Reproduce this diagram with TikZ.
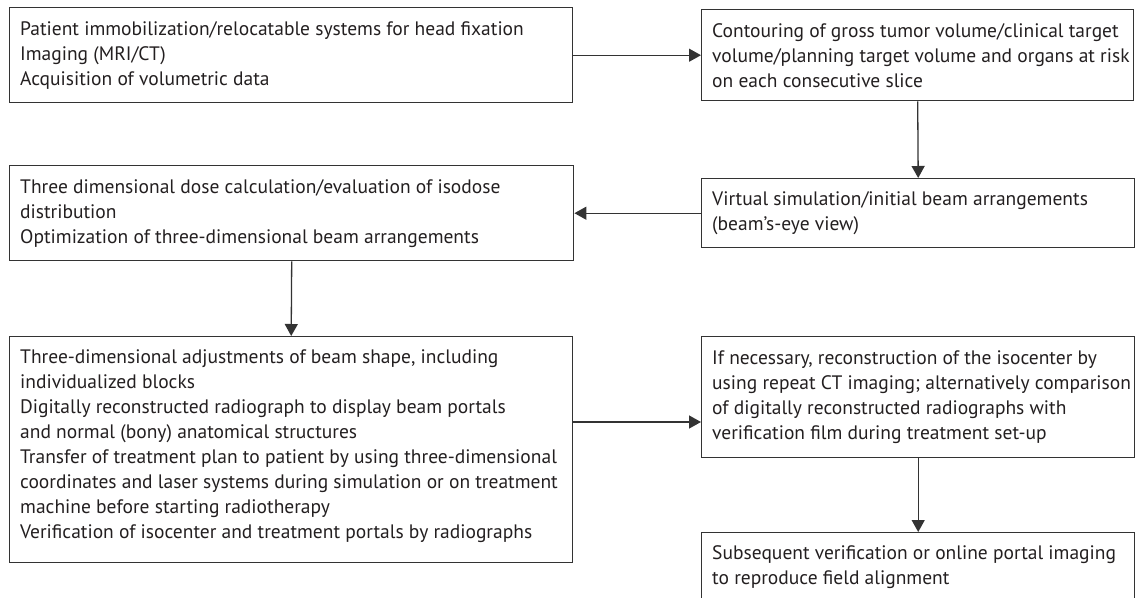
\documentclass[tikz,border=0pt]{standalone}
\usepackage{fontspec}
\setmainfont{PT Sans}
\usetikzlibrary{arrows.meta}

\definecolor{linegray}{HTML}{333333}
\definecolor{textgray}{HTML}{231F20}

\begin{document}
\begin{tikzpicture}[x=1pt, y=-1pt,
	stage/.style={draw=linegray, line width=1.4pt, anchor=north west, inner sep=0pt},
	note/.style={anchor=west, align=left, inner sep=0pt, text=textgray, font=\fontsize{19.5}{25}\selectfont},
	flow/.style={draw=linegray, line width=1.3pt, -{Triangle[length=12pt, width=13pt]}}]

\path [use as bounding box] (0,0) rectangle (1137,597);

% BOXES
\node [stage, minimum width=563pt, minimum height=95pt] (b1) at (9,7) {};
\node [stage, minimum width=432pt, minimum height=91pt] (b2) at (701,9) {};
\node [stage, minimum width=564pt, minimum height=95pt] (b3) at (9,165) {};
\node [stage, minimum width=433pt, minimum height=69pt] (b4) at (701,178) {};
\node [stage, minimum width=563pt, minimum height=226pt] (b5) at (9,336) {};
\node [stage, minimum width=433pt, minimum height=121pt] (b6) at (701,336) {};
\node [stage, minimum width=433pt, minimum height=69pt] (b7) at (701,532) {};

% TEXTS
\node [note] (t1) at ([xshift=11pt]b1.west) {Patient immobilization/relocatable systems for head fixation\\ Imaging (MRI/CT)\\ Acquisition of volumetric data};
\node [note] (t2) at ([xshift=11pt]b2.west) {Contouring of gross tumor volume/clinical target\\ volume/planning target volume and organs at risk\\ on each consecutive slice};
\node [note] (t3) at ([xshift=11pt]b3.west) {Three dimensional dose calculation/evaluation of isodose\\ distribution\\ Optimization of three-dimensional beam arrangements};
\node [note] (t4) at ([xshift=11pt]b4.west) {Virtual simulation/initial beam arrangements\\ (beam's-eye view)};
\node [note] (t5) at ([xshift=11pt, yshift=4pt]b5.west) {Three-dimensional adjustments of beam shape, including\\ individualized blocks\\ Digitally reconstructed radiograph to display beam portals\\ and normal (bony) anatomical structures\\ Transfer of treatment plan to patient by using three-dimensional\\ coordinates and laser systems during simulation or on treatment\\ machine before starting radiotherapy\\ Verification of isocenter and treatment portals by radiographs};
\node [note] (t6) at ([xshift=11pt]b6.west) {If necessary, reconstruction of the isocenter by\\ using repeat CT imaging; alternatively comparison\\ of digitally reconstructed radiographs with\\ verification film during treatment set-up};
\node [note] (t7) at ([xshift=11pt]b7.west) {Subsequent verification or online portal imaging\\ to reproduce field alignment};

% ARROWS
\coordinate (j56) at (0,422);
\draw [flow] (b1.east) -- (b2.west);
\draw [flow] (b2.south) -- (b4.north);
\draw [flow] (b4.west) -- (b3.east);
\draw [flow] (b3.south) -- (b5.north);
\draw [flow] (b5.east |- j56) -- (b6.west |- j56);
\draw [flow] (b6.south) -- (b7.north);

\end{tikzpicture}
\end{document}
